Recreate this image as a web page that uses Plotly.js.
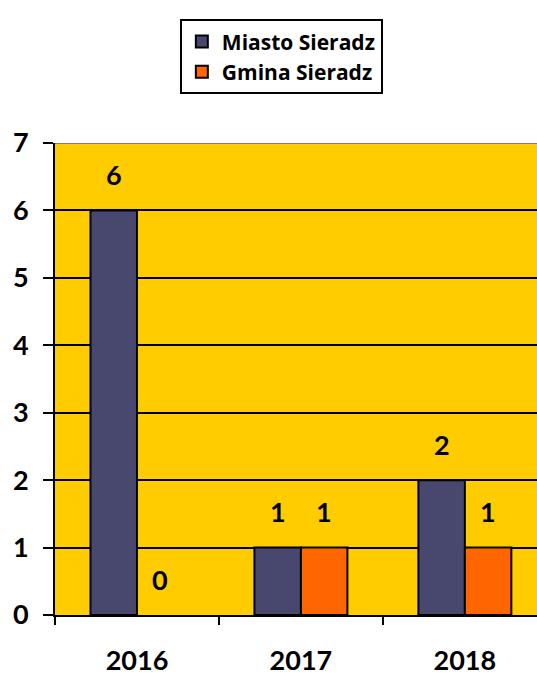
<!DOCTYPE html>
<html><head><meta charset="utf-8">
<script src="https://cdn.plot.ly/plotly-3.0.1.min.js"></script>
<style>html,body{margin:0;padding:0;overflow:hidden;background:#fff}</style>
</head><body><div id="chart" style="width:537px;height:678px"></div>
<script>
const years = ["2016", "2017", "2018"];
const miasto = [6, 1, 2];
const gmina = [0, 1, 1];
const seriesNames = ["Miasto Sieradz", "Gmina Sieradz"];
const yTicks = [0, 1, 2, 3, 4, 5, 6, 7];

const FONT = "Lato";
const BAR_LINE = {color: "#000", width: 2};
const traces = [
  {type: "bar", x: years, y: miasto.map(v => v || null), name: "<b>" + seriesNames[0] + "</b>", legendgroup: "a",
   marker: {color: "#48486F", line: BAR_LINE}},
  {type: "bar", x: years, y: gmina.map(v => v || null), name: "<b>" + seriesNames[1] + "</b>", legendgroup: "b",
   marker: {color: "#FF6600", line: BAR_LINE}}
];

const annotations = [];
[miasto, gmina].forEach(function(s, si) {
  s.forEach(function(v, i) {
    annotations.push({x: i, y: v, xref: "x", yref: "y", text: "<b>" + v + "</b>",
      showarrow: false, xshift: si === 0 ? -23 : 23, yshift: 36,
      font: {family: FONT, size: 27, color: "#000"}});
  });
});

const layout = {
  width: 537, height: 678,
  margin: {l: 55, r: 0, t: 143, b: 63},
  paper_bgcolor: "#fff", plot_bgcolor: "#FFCC00",
  barmode: "group", bargap: 0.433, bargroupgap: 0,
  showlegend: true,
  legend: {x: 0.259, xanchor: "left", y: 1.262, yanchor: "top",
    bgcolor: "#fff", bordercolor: "#000", borderwidth: 2,
    tracegroupgap: 8, traceorder: "normal",
    font: {family: "Open Sans", size: 21, color: "#000", weight: 700}},
  xaxis: {type: "category", range: [-0.5, 2.44], tickson: "boundaries",
    ticks: "outside", ticklen: 8, tickwidth: 2, tickcolor: "#000",
    showline: true, linecolor: "#000", linewidth: 2, showgrid: false,
    ticklabelstandoff: 21,
    tickfont: {family: FONT, size: 27, color: "#000", weight: "bold"}},
  yaxis: {range: [0, 7], tickvals: yTicks, ticks: "outside", ticklen: 10,
    tickwidth: 2, tickcolor: "#000", showline: true, linecolor: "#000", linewidth: 2,
    showgrid: true, gridcolor: "#000", gridwidth: 2, zeroline: false,
    ticklabelstandoff: 9,
    tickfont: {family: FONT, size: 27, color: "#000", weight: "bold"}},
  shapes: [{type: "line", xref: "paper", yref: "y", x0: 0, x1: 1, y0: 7, y1: 7,
    line: {color: "#808080", width: 2}}],
  annotations: annotations
};
Plotly.newPlot("chart", traces, layout, {displayModeBar: false, staticPlot: true});
</script></body></html>
